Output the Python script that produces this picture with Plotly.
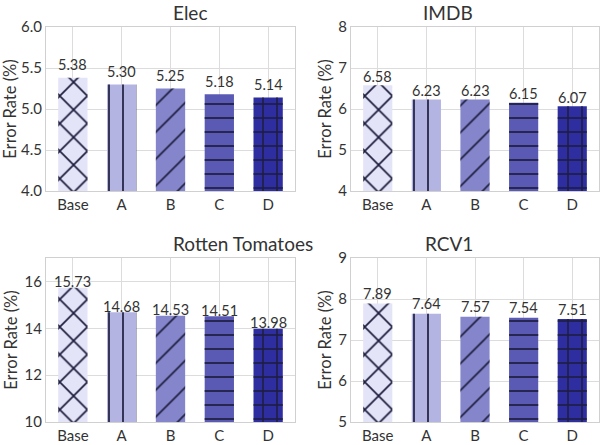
import plotly.graph_objects as go

categories = ["Base", "A", "B", "C", "D"]
titles = ["Elec", "IMDB", "Rotten Tomatoes", "RCV1"]
elec = [5.38, 5.30, 5.25, 5.18, 5.14]
imdb = [6.58, 6.23, 6.23, 6.15, 6.07]
rotten = [15.73, 14.68, 14.53, 14.51, 13.98]
rcv1 = [7.89, 7.64, 7.57, 7.54, 7.51]
series = [elec, imdb, rotten, rcv1]
yranges = [[4, 6], [4, 8], [10, 17], [5, 9]]
ytickvals = [[4.0, 4.5, 5.0, 5.5, 6.0], [4, 5, 6, 7, 8], [10, 12, 14, 16], [5, 6, 7, 8, 9]]
yticktext = [["4.0", "4.5", "5.0", "5.5", "6.0"], ["4", "5", "6", "7", "8"],
             ["10", "12", "14", "16"], ["5", "6", "7", "8", "9"]]

colors = ["#e4e4f8", "#b4b4e3", "#8585cc", "#5a5ab4", "#2e2ea0"]
shapes_ = ["x", "|", "/", "-", "+"]
sizes = [19.5, 14, 19, 14, 14]
solid = [0.17, 0.12, 0.085, 0.12, 0.2]
label_shift = [13, 9, 6, 10]
HATCH = "#1c1c3c"

W, H = 606, 445
xdom = [[46 / W, 295 / W], [351 / W, 599 / W]]
ydom = [[(H - 191) / H, (H - 27) / H], [(H - 422) / H, (H - 258) / H]]

FONT = "Lato"
TXT = "#333333"
fig = go.Figure()
annotations = []
for k in range(4):
    r, c = divmod(k, 2)
    idx = "" if k == 0 else str(k + 1)
    xa, ya = "x" + idx, "y" + idx
    fig.add_trace(go.Bar(
        x=categories, y=series[k], xaxis=xa, yaxis=ya, width=0.6,
        marker=dict(color=colors, line=dict(width=0)),
        showlegend=False, hoverinfo="skip"))
    fig.add_trace(go.Bar(
        x=categories, y=series[k], xaxis=xa, yaxis=ya, width=0.6,
        marker=dict(color=HATCH, line=dict(width=0),
                    pattern=dict(shape=shapes_, size=sizes, solidity=solid,
                                 fillmode="replace", bgcolor="rgba(0,0,0,0)")),
        showlegend=False, hoverinfo="skip"))
    for cat, v in zip(categories, series[k]):
        annotations.append(dict(x=cat, y=v, xref=xa, yref=ya, text=f"{v:.2f}",
                                showarrow=False, yanchor="middle", yshift=label_shift[k],
                                font=dict(family=FONT, size=14.5, color=TXT)))
    common = dict(showline=True, linecolor="#d0d0d0", linewidth=1, mirror=True,
                  showgrid=True, gridcolor="#dcdcdc", gridwidth=1, zeroline=False,
                  automargin=False, layer="below traces",
                  ticks="", tickfont=dict(family=FONT, size=15, color=TXT))
    fig.layout["xaxis" + idx] = dict(domain=xdom[c], anchor=ya, range=[-0.55, 4.55],
                                     **common)
    fig.layout["yaxis" + idx] = dict(domain=ydom[r], anchor=xa, range=yranges[k],
                                     tickvals=ytickvals[k], ticktext=yticktext[k],
                                     title=dict(text="Error Rate (%)", standoff=2,
                                                font=dict(family=FONT, size=16.5, color=TXT)),
                                     **common)
    annotations.append(dict(x=(xdom[c][0] + xdom[c][1]) / 2, y=ydom[r][1], xref="paper",
                            yref="paper", text=titles[k], showarrow=False,
                            yanchor="bottom", yshift=1,
                            font=dict(family=FONT, size=19, color=TXT)))

fig.update_layout(template="none", width=W, height=H, margin=dict(l=0, r=0, t=0, b=0),
                  paper_bgcolor="white", plot_bgcolor="white", barmode="overlay",
                  annotations=annotations)
fig.write_html("out.html")
